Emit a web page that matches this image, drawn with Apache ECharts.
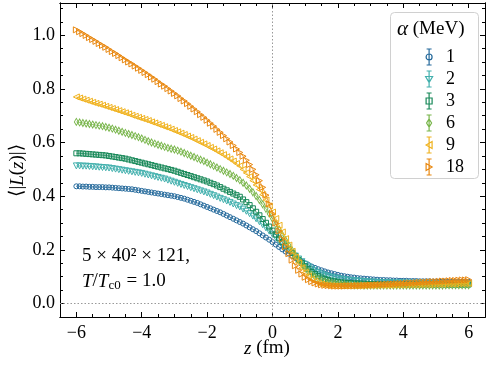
<!DOCTYPE html>
<html>
<head>
<meta charset="utf-8">
<script src="https://cdn.jsdelivr.net/npm/echarts@6/dist/echarts.min.js"></script>
<style>
  html, body { margin: 0; padding: 0; background: #fff; }
  #chart { width: 488px; height: 366px; }
</style>
</head>
<body>
<div id="chart"></div>
<script>
// z (fm), 121 lattice sites
var zValues = [
  -6.0, -5.9, -5.8, -5.7, -5.6, -5.5, -5.4, -5.3, -5.2, -5.1, -5.0,
  -4.9, -4.8, -4.7, -4.6, -4.5, -4.4, -4.3, -4.2, -4.1, -4.0,
  -3.9, -3.8, -3.7, -3.6, -3.5, -3.4, -3.3, -3.2, -3.1, -3.0,
  -2.9, -2.8, -2.7, -2.6, -2.5, -2.4, -2.3, -2.2, -2.1, -2.0,
  -1.9, -1.8, -1.7, -1.6, -1.5, -1.4, -1.3, -1.2, -1.1, -1.0,
  -0.9, -0.8, -0.7, -0.6, -0.5, -0.4, -0.3, -0.2, -0.1, 0.0,
  0.1, 0.2, 0.3, 0.4, 0.5, 0.6, 0.7, 0.8, 0.9, 1.0,
  1.1, 1.2, 1.3, 1.4, 1.5, 1.6, 1.7, 1.8, 1.9, 2.0,
  2.1, 2.2, 2.3, 2.4, 2.5, 2.6, 2.7, 2.8, 2.9, 3.0,
  3.1, 3.2, 3.3, 3.4, 3.5, 3.6, 3.7, 3.8, 3.9, 4.0,
  4.1, 4.2, 4.3, 4.4, 4.5, 4.6, 4.7, 4.8, 4.9, 5.0,
  5.1, 5.2, 5.3, 5.4, 5.5, 5.6, 5.7, 5.8, 5.9, 6.0
];

// <|L(z)|> for each alpha (MeV)
var alpha1 = [
  .437, .437, .436, .436, .435, .435, .434, .434, .434, .433, .433,
  .432, .431, .430, .429, .428, .427, .426, .424, .422, .420,
  .418, .416, .414, .412, .410, .408, .406, .404, .402, .400,
  .397, .394, .391, .387, .383, .379, .375, .370, .365, .360,
  .355, .350, .345, .340, .334, .328, .322, .316, .310, .304,
  .298, .291, .284, .277, .270, .262, .254, .246, .238, .229,
  .220, .211, .202, .194, .186, .178, .170, .163, .156, .150,
  .144, .138, .133, .128, .124, .120, .116, .113, .110, .107,
  .104, .102, .100, .098, .097, .095, .094, .093, .092, .091,
  .090, .089, .088, .088, .087, .087, .086, .086, .085, .085,
  .085, .084, .084, .084, .083, .083, .083, .083, .082, .082,
  .082, .082, .082, .081, .081, .081, .081, .081, .081, .081
];
var alpha2 = [
  .513, .513, .512, .512, .511, .510, .509, .508, .507, .506, .505,
  .503, .501, .499, .497, .495, .493, .491, .489, .487, .485,
  .482, .479, .476, .473, .470, .467, .464, .460, .456, .452,
  .448, .444, .440, .436, .432, .428, .424, .420, .416, .412,
  .407, .402, .397, .392, .387, .382, .377, .371, .365, .360,
  .352, .344, .335, .326, .316, .305, .294, .282, .270, .258,
  .246, .234, .222, .210, .199, .188, .177, .166, .156, .146,
  .137, .129, .122, .115, .110, .105, .101, .098, .095, .093,
  .091, .089, .087, .086, .085, .084, .083, .082, .081, .080,
  .080, .079, .079, .078, .078, .078, .077, .077, .077, .077,
  .077, .076, .076, .076, .076, .076, .076, .076, .075, .075,
  .075, .075, .075, .075, .075, .075, .075, .075, .075, .075
];
var alpha3 = [
  .560, .560, .559, .558, .557, .556, .555, .554, .553, .552, .550,
  .548, .546, .544, .542, .540, .537, .534, .531, .528, .525,
  .522, .519, .516, .513, .510, .507, .504, .501, .498, .495,
  .491, .487, .483, .479, .475, .471, .467, .463, .459, .455,
  .450, .445, .440, .434, .428, .422, .416, .410, .404, .398,
  .388, .378, .367, .355, .342, .329, .315, .301, .287, .272,
  .257, .243, .229, .215, .202, .189, .176, .163, .151, .139,
  .128, .118, .110, .103, .097, .092, .088, .085, .083, .081,
  .079, .078, .077, .076, .075, .075, .074, .074, .073, .073,
  .073, .072, .072, .072, .072, .072, .072, .071, .071, .071,
  .071, .071, .071, .071, .071, .071, .071, .071, .071, .071,
  .071, .071, .071, .071, .071, .071, .071, .071, .071, .071
];
var alpha6 = [
  .677, .675, .673, .671, .669, .667, .665, .663, .661, .658, .655,
  .652, .648, .644, .640, .636, .632, .628, .624, .620, .615,
  .610, .605, .600, .596, .592, .588, .584, .580, .577, .574,
  .570, .566, .561, .556, .551, .546, .541, .536, .531, .525,
  .519, .513, .507, .501, .495, .489, .483, .476, .468, .460,
  .450, .440, .428, .415, .401, .386, .370, .353, .335, .316,
  .296, .276, .256, .236, .217, .198, .180, .163, .147, .132,
  .119, .108, .099, .092, .086, .082, .079, .076, .074, .072,
  .071, .070, .069, .069, .068, .068, .068, .067, .067, .067,
  .067, .067, .067, .067, .067, .067, .067, .067, .067, .067,
  .067, .067, .067, .067, .067, .067, .067, .067, .067, .067,
  .067, .067, .068, .068, .068, .068, .068, .068, .068, .068
];
var alpha9 = [
  .770, .766, .762, .758, .754, .750, .746, .743, .739, .735, .731,
  .727, .723, .719, .715, .711, .707, .702, .698, .694, .690,
  .686, .682, .677, .673, .668, .664, .659, .655, .650, .645,
  .640, .635, .630, .624, .619, .613, .607, .601, .595, .589,
  .582, .576, .569, .562, .555, .547, .539, .531, .522, .513,
  .500, .487, .473, .458, .442, .425, .406, .386, .364, .341,
  .317, .292, .267, .242, .218, .195, .173, .152, .133, .116,
  .102, .091, .083, .077, .073, .070, .068, .067, .066, .066,
  .066, .066, .066, .066, .066, .066, .066, .067, .067, .067,
  .067, .067, .068, .068, .068, .068, .069, .069, .069, .069,
  .070, .070, .070, .070, .071, .071, .071, .071, .072, .072,
  .072, .072, .073, .073, .073, .073, .074, .074, .074, .075
];
var alpha18 = [
  1.020, 1.013, 1.006, .999, .991, .984, .977, .969, .962, .955, .947,
  .939, .932, .924, .916, .908, .900, .893, .885, .877, .869,
  .861, .853, .844, .836, .827, .818, .810, .801, .792, .783,
  .774, .764, .755, .745, .735, .725, .715, .704, .694, .683,
  .672, .661, .649, .638, .626, .614, .602, .589, .576, .563,
  .549, .534, .518, .500, .480, .458, .433, .404, .371, .335,
  .300, .270, .240, .212, .186, .162, .141, .124, .110, .098,
  .089, .082, .077, .073, .070, .068, .067, .066, .065, .065,
  .065, .065, .066, .066, .066, .067, .067, .068, .068, .069,
  .069, .070, .071, .071, .072, .073, .073, .074, .075, .075,
  .076, .077, .077, .078, .079, .080, .080, .081, .082, .082,
  .083, .084, .084, .085, .086, .086, .087, .088, .088, .089
];

var seriesNames = ['1', '2', '3', '6', '9', '18'];
var seriesValues = [alpha1, alpha2, alpha3, alpha6, alpha9, alpha18];

var xMajorTicks = [-6, -4, -2, 0, 2, 4, 6];
var xMinorTicks = [-6.5, -5.5, -5, -4.5, -3.5, -3, -2.5, -1.5, -1, -0.5, 0.5, 1, 1.5, 2.5, 3, 3.5, 4.5, 5, 5.5, 6.5];
var yMajorTicks = [0, 0.2, 0.4, 0.6, 0.8, 1.0];
var yMinorTicks = [-0.05, 0.05, 0.1, 0.15, 0.25, 0.3, 0.35, 0.45, 0.5, 0.55, 0.65, 0.7, 0.75, 0.85, 0.9, 0.95, 1.05, 1.1];

var colors = ['#24699b', '#42b0ad', '#178858', '#78b54a', '#f0b21e', '#e8870f'];
var symbols = ['circle', 'triangle', 'rect', 'diamond', 'triangle', 'triangle'];
var rotates = [0, 180, 0, 0, 90, -90];
var sizes = [5, 6, 5, [4, 7], 6, 6];

// legend handles: errorbar with caps + marker outline
var bar = 'M5,0 L5,16 M2.5,0 L7.5,0 M2.5,16 L7.5,16 ';
var legendIcons = [
    'path://' + bar + 'M8,8 A3,3 0 1 1 2,8 A3,3 0 1 1 8,8 Z',
    'path://' + bar + 'M1.5,5.5 L8.5,5.5 L5,11.5 Z',
    'path://' + bar + 'M2,5 L8,5 L8,11 L2,11 Z',
    'path://' + bar + 'M5,4 L7.5,8 L5,12 L2.5,8 Z',
    'path://' + bar + 'M8,4.5 L8,11.5 L2,8 Z',
    'path://' + bar + 'M2,4.5 L2,11.5 L8,8 Z'
];

var FONT = '"Liberation Serif", "DejaVu Serif", serif';

var myChart = echarts.init(document.getElementById('chart'));

function pairs(vals) {
    return zValues.map(function (z, i) { return [z, vals[i]]; });
}

function tickAxis(pos, ticks, len, showLabel, extra) {
    var ax = {
        type: 'value',
        position: pos,
        axisLine: { show: true, onZero: false, lineStyle: { color: '#000', width: 1 } },
        axisTick: { show: true, inside: true, length: len, customValues: ticks, lineStyle: { color: '#000', width: 1 } },
        axisLabel: { show: showLabel, customValues: ticks },
        splitLine: { show: false }
    };
    return Object.assign(ax, extra);
}

var xr = { min: -6.5, max: 6.5 };
var yr = { min: -0.05, max: 1.12 };
var minus = function (v) { return String(v).replace('-', '\u2212'); };

var series = seriesNames.map(function (name, k) {
    return {
        name: name,
        type: 'line',
        data: pairs(seriesValues[k]),
        symbol: symbols[k],
        symbolSize: sizes[k],
        symbolRotate: rotates[k],
        showAllSymbol: true,
        lineStyle: { color: colors[k], width: 0.8 },
        itemStyle: { color: 'rgba(255,255,255,0)', borderColor: colors[k], borderWidth: 1 },
        emphasis: { disabled: true },
        animation: false,
        z: 3 + k
    };
});

series[0].markLine = {
    silent: true,
    symbol: 'none',
    label: { show: false },
    lineStyle: { color: '#999', type: [1.5, 2], width: 1 },
    data: [{ xAxis: 0 }, { yAxis: 0 }],
    animation: false
};

var option = {
    animation: false,
    grid: { left: 60, right: 3, top: 3, bottom: 49 },
    legend: {
        orient: 'vertical',
        left: 420,
        top: 43,
        itemWidth: 10,
        itemHeight: 16,
        itemGap: 4,
        data: seriesNames.map(function (n, k) {
            return {
                name: n,
                icon: legendIcons[k],
                itemStyle: { color: 'rgba(255,255,255,0)', borderColor: colors[k], borderWidth: 1.2 }
            };
        }),
        textStyle: { fontFamily: FONT, fontSize: 18, color: '#000', padding: [0, 0, 0, 7] }
    },
    graphic: [
        {
            type: 'rect',
            shape: { x: 390.5, y: 12.5, width: 88, height: 166, r: 4 },
            style: { fill: 'rgba(255,255,255,0.8)', stroke: '#d0d0d0', lineWidth: 1 },
            z: 1
        },
        {
            type: 'text',
            left: 397,
            top: 19,
            style: {
                text: '{i|\u03b1} (MeV)',
                font: '19px ' + FONT,
                fill: '#000',
                rich: { i: { fontStyle: 'italic', fontSize: 21, fontFamily: FONT } }
            },
            z: 10
        },
        {
            type: 'text',
            left: 82,
            top: 244,
            style: {
                text: '5 \u00d7 40\u00b2 \u00d7 121,\n{i|T}/{i|T}{s|c0} = 1.0',
                font: '19px ' + FONT,
                fill: '#000',
                lineHeight: 25,
                rich: {
                    i: { fontStyle: 'italic', fontSize: 19, fontFamily: FONT },
                    s: { fontSize: 13, fontFamily: FONT, padding: [9, 1, 0, 0] }
                }
            },
            z: 10
        },
        {
            type: 'text',
            left: 244,
            top: 339,
            style: {
                text: '{i|z} (fm)',
                font: '19px ' + FONT,
                fill: '#000',
                rich: { i: { fontStyle: 'italic', fontSize: 19, fontFamily: FONT } }
            }
        },
        {
            type: 'text',
            x: 8,
            y: 197,
            rotation: Math.PI / 2,
            style: {
                text: '\u27e8|{i|L}({i|z})|\u27e9',
                font: '19px ' + FONT,
                fill: '#000',
                rich: { i: { fontStyle: 'italic', fontSize: 19, fontFamily: FONT } }
            }
        }
    ],
    xAxis: [
        tickAxis('bottom', xMajorTicks, 5, true, Object.assign({
            axisLabel: { show: true, customValues: xMajorTicks, margin: 7, fontFamily: FONT, fontSize: 18, color: '#000', formatter: minus }
        }, xr)),
        tickAxis('bottom', xMinorTicks, 3, false, Object.assign({}, xr)),
        tickAxis('top', xMajorTicks, 5, false, Object.assign({}, xr)),
        tickAxis('top', xMinorTicks, 3, false, Object.assign({}, xr))
    ],
    yAxis: [
        tickAxis('left', yMajorTicks, 5, true, Object.assign({
            axisLabel: { show: true, customValues: yMajorTicks, margin: 5, fontFamily: FONT, fontSize: 18, color: '#000', formatter: function (v) { return v.toFixed(1); } }
        }, yr)),
        tickAxis('left', yMinorTicks, 3, false, Object.assign({}, yr)),
        tickAxis('right', yMajorTicks, 5, false, Object.assign({}, yr)),
        tickAxis('right', yMinorTicks, 3, false, Object.assign({}, yr))
    ],
    series: series
};

myChart.setOption(option);
window.addEventListener('resize', function () {
    myChart.resize();
});
</script>
</body>
</html>
